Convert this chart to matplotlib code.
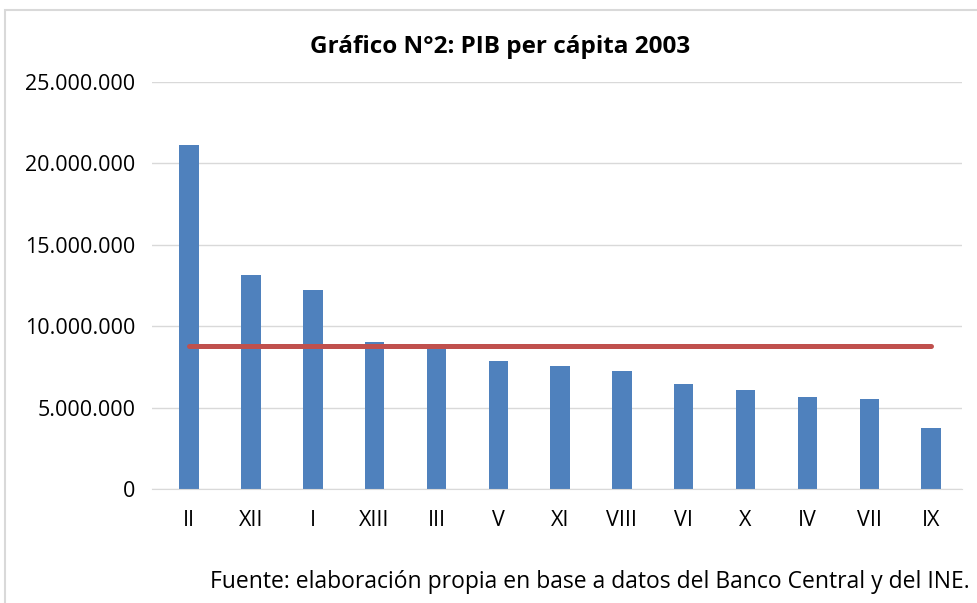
import numpy as np
import matplotlib.pyplot as plt
from matplotlib.patches import Rectangle
from matplotlib.ticker import FuncFormatter

# Datos
regiones = ['II', 'XII', 'I', 'XIII', 'III', 'V', 'XI', 'VIII', 'VI', 'X', 'IV', 'VII', 'IX']
pib = [21130000, 13140000, 12220000, 9030000, 8750000, 7860000, 7560000,
       7250000, 6450000, 6080000, 5650000, 5530000, 3750000]
promedio = [8780000] * len(regiones)

plt.rcParams['font.family'] = ['Open Sans', 'DejaVu Sans']

fig = plt.figure(figsize=(9.77, 6.03), dpi=100)
ax = fig.add_axes([152/977, 1-489/603, (962-152)/977, (489-82)/603])

x = np.arange(len(regiones))
ax.bar(x, pib, width=0.315, color='#4F81BD', zorder=2)
ax.plot(x, promedio, color='#C0504D', linewidth=3.6, solid_capstyle='round', zorder=3)

ax.set_xlim(-0.6, len(regiones) - 0.5)
ax.set_ylim(0, 25000000)
ax.set_yticks(np.arange(0, 25000001, 5000000))
ax.yaxis.set_major_formatter(FuncFormatter(lambda v, p: f'{int(v):,}'.replace(',', '.')))
ax.set_xticks(x)
ax.set_xticklabels(regiones)
ax.tick_params(length=0, labelsize=15.5, colors='#000000')
ax.tick_params(axis='x', pad=15)
ax.tick_params(axis='y', pad=12)
ax.grid(axis='y', color='#d9d9d9', linewidth=1, zorder=0)
for s in ['top', 'right', 'left']:
    ax.spines[s].set_visible(False)
ax.spines['bottom'].set_color('#d9d9d9')

fig.text(0.512, 1-47/603, 'Gráfico N°2: PIB per cápita 2003', ha='center', va='center',
         fontsize=17.5, fontweight='bold')
fig.text(970/977, 1-582/603, 'Fuente: elaboración propia en base a datos del Banco Central y del INE.',
         ha='right', va='center', fontsize=16.5)

# marco del area del grafico
fig.patches.append(Rectangle((5/977, -0.5), 2, 0.5 + 1 - 10/603, transform=fig.transFigure,
                             fill=False, edgecolor='#d9d9d9', linewidth=1.5))

fig.savefig('out.png', dpi=100)
